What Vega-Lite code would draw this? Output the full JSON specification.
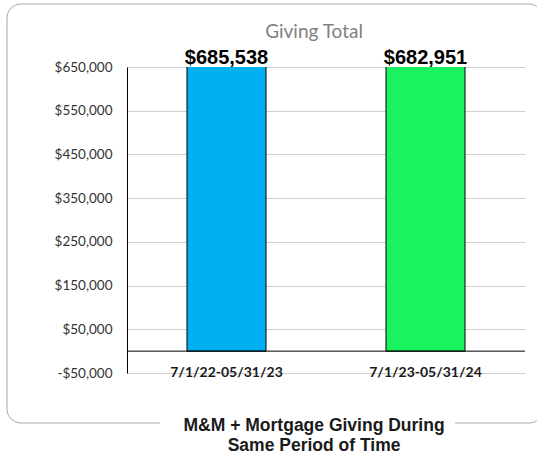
{
  "$schema": "https://vega.github.io/schema/vega-lite/v6.json",
  "width": 398,
  "height": 306,
  "autosize": {"type": "none"},
  "padding": {"left": 127, "top": 67, "right": 12, "bottom": 86},
  "background": "white",
  "config": {"view": {"stroke": null}, "font": "Lato"},
  "datasets": {
    "totals": [
      {"period": "7/1/22-05/31/23", "total": 685538, "label": "$685,538"},
      {"period": "7/1/23-05/31/24", "total": 682951, "label": "$682,951"}
    ],
    "one": [{"title": "Giving Total", "caption": "M&M + Mortgage Giving During\nSame Period of Time"}]
  },
  "resolve": {"scale": {"x": "independent"}, "axis": {"x": "independent"}},
  "layer": [
    {
      "data": {"name": "one"},
      "mark": {"type": "rect", "fill": "transparent", "stroke": "#a6a6a6", "strokeWidth": 1, "cornerRadius": 14},
      "encoding": {
        "x": {"datum": -0.3015, "type": "quantitative", "scale": {"domain": [0, 1], "nice": false, "zero": false}, "axis": null},
        "x2": {"datum": 1.045},
        "y": {"datum": 794118, "type": "quantitative"},
        "y2": {"datum": -164379}
      }
    },
    {
      "data": {"name": "one"},
      "mark": {"type": "rect", "fill": "white", "stroke": null},
      "encoding": {
        "x": {"datum": 0.083, "type": "quantitative", "scale": {"domain": [0, 1], "nice": false, "zero": false}, "axis": null},
        "x2": {"datum": 0.824},
        "y": {"datum": -156000, "type": "quantitative"},
        "y2": {"datum": -173000}
      }
    },
    {
      "data": {"name": "totals"},
      "mark": {"type": "bar", "clip": true, "stroke": "black", "strokeWidth": 1},
      "encoding": {
        "x": {
          "field": "period", "type": "nominal", "sort": null,
          "scale": {"paddingInner": 0.603, "paddingOuter": 0.3015},
          "axis": {
            "title": null, "domain": false, "ticks": false, "grid": false,
            "labelAngle": 0, "labelFont": "Lato", "labelFontWeight": "bold",
            "labelFontSize": 14, "labelColor": "#1a1a1a", "labelBaseline": "middle", "labelPadding": -1
          }
        },
        "y": {
          "field": "total", "type": "quantitative",
          "scale": {"domain": [-50000, 650000], "nice": false, "zero": false},
          "axis": {
            "title": null,
            "values": [-50000, 50000, 150000, 250000, 350000, 450000, 550000, 650000],
            "labelExpr": "datum.value < 0 ? '-$' + format(-datum.value, ',') : '$' + format(datum.value, ',')",
            "labelFont": "Lato", "labelFontSize": 13.5, "labelColor": "#333333", "labelPadding": 15,
            "ticks": false, "domain": true, "domainColor": "black", "domainWidth": 1,
            "grid": true, "gridColor": "#d0d0d0", "gridWidth": 1.2
          }
        },
        "color": {
          "field": "period", "type": "nominal", "legend": null,
          "scale": {"domain": ["7/1/22-05/31/23", "7/1/23-05/31/24"], "range": ["#00b0f0", "#1af25f"]}
        }
      }
    },
    {
      "data": {"name": "one"},
      "mark": {"type": "rule", "color": "black", "strokeWidth": 1},
      "encoding": {"y": {"datum": 0, "type": "quantitative"}}
    },
    {
      "data": {"name": "totals"},
      "mark": {"type": "text", "font": "Liberation Sans", "fontWeight": "bold", "fontSize": 20, "color": "black", "baseline": "alphabetic", "dy": -3},
      "encoding": {
        "x": {"field": "period", "type": "nominal", "sort": null, "scale": {"paddingInner": 0.603, "paddingOuter": 0.3015}, "axis": null},
        "y": {"datum": 650000, "type": "quantitative"},
        "text": {"field": "label"}
      }
    },
    {
      "data": {"name": "one"},
      "mark": {"type": "text", "font": "Lato", "fontSize": 19, "color": "#7f7f7f", "baseline": "middle"},
      "encoding": {
        "x": {"datum": 0.47, "type": "quantitative", "scale": {"domain": [0, 1], "nice": false, "zero": false}, "axis": null},
        "y": {"datum": 730000, "type": "quantitative"},
        "text": {"field": "title"}
      }
    },
    {
      "data": {"name": "one"},
      "mark": {"type": "text", "font": "Liberation Sans", "fontWeight": "bold", "fontSize": 17.5, "color": "#1a1a1a", "baseline": "middle", "lineBreak": "\n", "lineHeight": 20},
      "encoding": {
        "x": {"datum": 0.47, "type": "quantitative", "scale": {"domain": [0, 1], "nice": false, "zero": false}, "axis": null},
        "y": {"datum": -171000, "type": "quantitative"},
        "text": {"field": "caption"}
      }
    }
  ]
}
